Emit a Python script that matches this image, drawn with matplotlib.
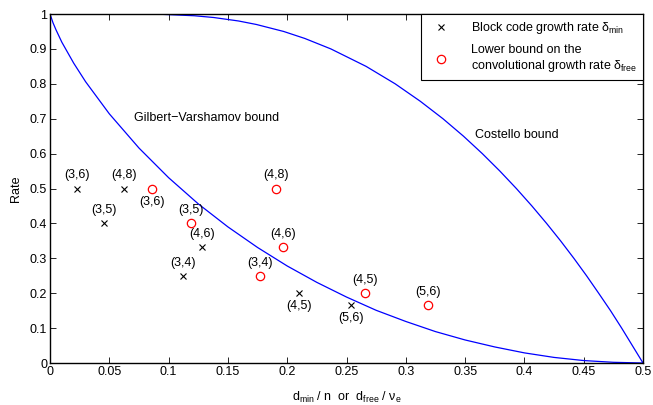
import matplotlib
matplotlib.use("Agg")
import matplotlib.pyplot as plt

plt.rcParams['font.family'] = ['Liberation Sans', 'DejaVu Sans']
plt.rcParams['mathtext.default'] = 'regular'

# Gilbert-Varshamov bound
gv_x = [0, 0.0025, 0.005, 0.01, 0.02, 0.03, 0.05, 0.075, 0.1, 0.125, 0.15, 0.175,
        0.2, 0.225, 0.25, 0.275, 0.3, 0.325, 0.35, 0.375, 0.4, 0.425, 0.45, 0.475, 0.5]
gv_y = [1, 0.975, 0.955, 0.919, 0.859, 0.806, 0.714, 0.616, 0.531, 0.456, 0.390, 0.331,
        0.278, 0.231, 0.189, 0.151, 0.119, 0.090, 0.066, 0.046, 0.029, 0.016, 0.007, 0.002, 0]

# Costello bound
cb_x = [0, 0.03, 0.05, 0.072, 0.095, 0.1218, 0.138, 0.159, 0.174, 0.197, 0.2148, 0.2368,
        0.2665, 0.291, 0.3122, 0.3313, 0.3486, 0.3645, 0.3793, 0.3932, 0.4063, 0.4187,
        0.4305, 0.4417, 0.4524, 0.4626, 0.4726, 0.482, 0.491, 0.5]
cb_y = [1, 1, 1, 0.9999, 0.999, 0.995, 0.99, 0.98, 0.97, 0.95, 0.93, 0.9,
        0.85, 0.8, 0.75, 0.7, 0.65, 0.6, 0.55, 0.5, 0.45, 0.4, 0.35,
        0.3, 0.25, 0.2, 0.15, 0.1, 0.05, 0]

# block codes (x markers)
blk_labels = ['(3,6)', '(4,8)', '(3,5)', '(3,4)', '(4,6)', '(4,5)', '(5,6)']
blk_x = [0.0227, 0.0625, 0.0455, 0.1125, 0.128, 0.21, 0.254]
blk_y = [0.5, 0.5, 0.4, 0.25, 0.333, 0.2, 0.167]
blk_below = [False, False, False, False, False, True, True]

# convolutional codes (red circles)
cnv_labels = ['(3,6)', '(3,5)', '(3,4)', '(4,8)', '(4,6)', '(4,5)', '(5,6)']
cnv_x = [0.086, 0.119, 0.177, 0.1905, 0.1965, 0.266, 0.319]
cnv_y = [0.5, 0.4, 0.25, 0.5, 0.333, 0.2, 0.167]
cnv_below = [True, False, False, False, False, False, False]

fig = plt.figure(figsize=(6.53, 4.05), dpi=100)
ax = fig.add_axes([0.0766, 0.1037, 0.9081, 0.8617])

ax.plot(gv_x, gv_y, color='blue', lw=0.9)
ax.plot(cb_x, cb_y, color='blue', lw=0.9)

ax.plot(blk_x, blk_y, 'x', color='black', ms=4.5, mew=0.8,
        label=r'Block code growth rate $\delta_{min}$')
ax.plot(cnv_x, cnv_y, 'o', mfc='none', mec='red', ms=6, mew=0.9,
        label='Lower bound on the\nconvolutional growth rate $\\delta_{free}$')

for xs, ys, labs, below in [(blk_x, blk_y, blk_labels, blk_below),
                            (cnv_x, cnv_y, cnv_labels, cnv_below)]:
    for x, y, t, b in zip(xs, ys, labs, below):
        ax.annotate(t, (x, y), xytext=(0, -9.5 if b else 9.5), textcoords='offset points',
                    ha='center', va='center', fontsize=9)

ax.text(0.0708, 0.702, 'Gilbert\u2212Varshamov bound', fontsize=9, va='center')
ax.text(0.358, 0.653, 'Costello bound', fontsize=9, va='center')

ax.set_xlim(0, 0.5)
ax.set_ylim(0, 1)
ax.set_xticks([i * 0.05 for i in range(11)])
ax.set_xticklabels(['0', '0.05', '0.1', '0.15', '0.2', '0.25', '0.3', '0.35', '0.4', '0.45', '0.5'])
ax.set_yticks([i * 0.1 for i in range(11)])
ax.set_yticklabels(['0', '0.1', '0.2', '0.3', '0.4', '0.5', '0.6', '0.7', '0.8', '0.9', '1'])
ax.tick_params(direction='in', top=True, right=True, labelsize=9, length=4, width=0.6, pad=2)
for s in ax.spines.values():
    s.set_linewidth(1.0)

ax.set_xlabel(r'$d_{min}$ / n  or  $d_{free}$ / $\nu_e$', fontsize=9, labelpad=9)
ax.set_ylabel('Rate', fontsize=9, labelpad=6)

leg = ax.legend(loc='upper right', fontsize=9, fancybox=False, edgecolor='black',
                framealpha=1, borderaxespad=0, handletextpad=1.3, labelspacing=0.6,
                borderpad=0.5, handlelength=2.2)
leg.get_frame().set_linewidth(0.8)

fig.savefig('out.png', dpi=100)
